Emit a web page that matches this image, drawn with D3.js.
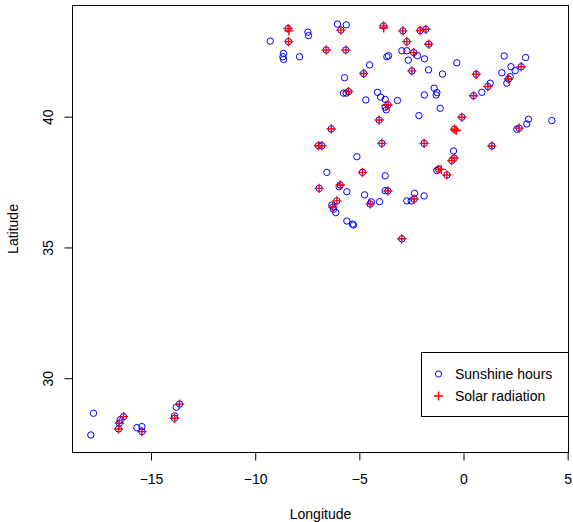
<!DOCTYPE html>
<html>
<head>
<meta charset="utf-8">
<script src="https://cdn.jsdelivr.net/npm/d3@7"></script>
<style>
  body { margin: 0; background: #fff; }
  text { font-family: "Liberation Sans", Arial, sans-serif; font-size: 14px; fill: #000; }
</style>
</head>
<body>
<svg id="chart" width="573" height="522"></svg>
<script>
// stations with sunshine hours
const sunLon = [-9.28, -8.42, -8.40, -7.47, -7.44, -8.64, -8.67, -8.64, -7.87, -6.59, -5.65, -6.05, -5.63, -5.89,
  -3.84, -2.91, -2.08, -1.81, -2.72, -1.67, -2.96, -2.72, -2.39, -2.21, -2.65, -1.87, -2.48, -1.68, -3.68, -3.60,
  -4.51, -4.79, -5.71, -5.52, -5.76, -5.63, -4.69, -4.13, -3.98, -3.76, -3.17, -3.62, -3.76, -3.71, -4.05, -6.35,
  -2.14, -1.01, -0.32, -1.41, -1.28, -1.31, -1.88, -1.12, 1.95, 2.98, 2.77, 2.28, 2.48, 1.84, 0.61, 2.16, 2.08,
  2.24, 1.28, 1.17, 0.88, 0.48, -0.08, 3.12, 3.04, 4.24, 2.67, 2.56, -0.43, -1.89, 1.36, -0.48, -0.56, -0.45,
  -1.20, -1.28, -0.80, -6.96, -6.80, -3.92, -5.12, -6.56, -4.85, -3.76, -6.93, -5.92, -5.97, -5.60, -4.75, -3.63,
  -3.76, -2.35, -1.89, -2.37, -2.72, -2.51, -4.03, -4.48, -4.43, -6.08, -6.27, -6.32, -6.24, -6.13, -5.60, -5.33,
  -5.28, -2.96, -17.76, -17.89, -16.32, -16.52, -16.56, -16.48, -15.68, -15.44, -15.44, -13.63, -13.79, -13.87, -13.87];
const sunLat = [42.89, 43.37, 42.87, 43.23, 43.10, 42.42, 42.29, 42.19, 42.29, 42.55, 42.55, 43.54, 43.51, 43.31,
  43.47, 43.28, 43.29, 43.34, 42.87, 42.77, 42.52, 42.52, 42.45, 42.33, 42.16, 42.21, 41.75, 41.79, 42.29, 42.33,
  41.98, 41.65, 41.49, 40.96, 40.90, 40.90, 40.64, 40.93, 40.75, 40.66, 40.62, 40.45, 40.36, 40.26, 39.87, 39.53,
  40.04, 41.63, 42.06, 41.09, 40.92, 40.83, 40.83, 40.32, 42.32, 42.26, 41.91, 41.91, 41.76, 41.68, 41.62, 41.44, 41.28,
  41.53, 41.28, 41.15, 40.93, 40.80, 39.98, 39.90, 39.72, 39.85, 39.56, 39.52, 39.52, 38.98, 38.88, 38.69, 38.32, 38.42,
  37.99, 37.94, 37.77, 38.89, 38.89, 38.98, 38.47, 37.87, 37.87, 37.74, 37.26, 37.39, 37.32, 37.13, 37.01, 37.16,
  37.17, 37.07, 36.97, 36.85, 36.78, 36.78, 36.75, 36.66, 36.74, 36.78, 36.54, 36.62, 36.46, 36.33, 36.01, 35.89,
  35.86, 35.33, 28.66, 27.83, 28.53, 28.28, 28.06, 28.41, 28.11, 28.15, 27.96, 29.01, 28.89, 28.47, 28.56];

// stations with solar radiation
const solLon = [-8.42, -8.38, -8.40, -6.59, -5.65, -5.89, -3.84, -3.83, -2.91, -2.08, -1.81, -2.72, -1.67, -2.39,
  -2.48, -4.79, -5.52, -3.62, -3.73, -4.05, -6.35, 2.77, 0.61, 2.16, 1.17, 0.48, -0.08, 2.67, -0.43, -0.35, -1.89,
  1.36, -0.56, -0.45, -1.20, -1.07, -0.80, -6.96, -6.80, -3.92, -4.85, -6.93, -5.92, -3.63, -2.37, -4.48, -6.08,
  -6.27, -2.96, -16.32, -16.52, -16.56, -15.44, -13.63, -13.87];
const solLat = [43.37, 43.28, 42.87, 42.55, 42.55, 43.31, 43.47, 43.39, 43.28, 43.29, 43.34, 42.87, 42.77, 42.45,
  41.75, 41.65, 40.96, 40.45, 40.43, 39.87, 39.53, 41.91, 41.62, 41.44, 41.15, 40.80, 39.98, 39.56, 39.52, 39.47, 38.98,
  38.88, 38.32, 38.42, 37.99, 37.98, 37.77, 38.89, 38.89, 38.98, 37.87, 37.26, 37.39, 37.16, 36.85, 36.66, 36.78,
  36.54, 35.33, 28.53, 28.28, 28.06, 27.96, 29.01, 28.47];

const xTicks = [-15, -10, -5, 0, 5];
const yTicks = [30, 35, 40];
const legendLabels = ["Sunshine hours", "Solar radiation"];

const box = {left: 72.5, right: 568.5, top: 5.5, bottom: 452.5};

const svg = d3.select("#chart");
const x = d3.scaleLinear().domain([-18.77, 5.04]).range([box.left, box.right]);
const y = d3.scaleLinear().domain([27.16, 44.25]).range([box.bottom, box.top]);

const sunshine = sunLon.map((d, i) => ({lon: d, lat: sunLat[i]}));
const solar = solLon.map((d, i) => ({lon: d, lat: solLat[i]}));

// plot frame
svg.append("rect")
    .attr("x", box.left).attr("y", box.top)
    .attr("width", box.right - box.left).attr("height", box.bottom - box.top)
    .attr("fill", "none").attr("stroke", "#000").attr("stroke-width", 1);

// x axis
const xAxis = svg.append("g")
    .attr("transform", `translate(0,${box.bottom})`)
    .call(d3.axisBottom(x).tickValues(xTicks).tickSize(8).tickPadding(14));
xAxis.select(".domain").remove();
xAxis.selectAll("text").style("font-size", "14px").style("font-family", "Liberation Sans, Arial, sans-serif");
xAxis.append("line")
    .attr("x1", x(-15)).attr("x2", x(5))
    .attr("stroke", "#000");

// y axis, labels turned like R does
const yAxis = svg.append("g")
    .attr("transform", `translate(${box.left},0)`)
    .call(d3.axisLeft(y).tickValues(yTicks).tickSize(8));
yAxis.select(".domain").remove();
yAxis.selectAll("text")
    .attr("x", null).attr("dy", null)
    .attr("text-anchor", "middle")
    .attr("transform", "translate(-20,0) rotate(-90)")
    .style("font-size", "14px").style("font-family", "Liberation Sans, Arial, sans-serif");
yAxis.append("line")
    .attr("y1", y(30)).attr("y2", y(40))
    .attr("stroke", "#000");

// axis titles
svg.append("text")
    .attr("x", (box.left + box.right) / 2).attr("y", 519)
    .attr("text-anchor", "middle")
    .text("Longitude");
svg.append("text")
    .attr("transform", `translate(18,${(box.top + box.bottom) / 2}) rotate(-90)`)
    .attr("text-anchor", "middle")
    .text("Latitude");

// points
const cross = (g, size) => g.append("path")
    .attr("d", `M${-size},0H${size}M0,${-size}V${size}`)
    .attr("stroke", "#ff0000").attr("stroke-width", 1.4).attr("fill", "none");

svg.append("g").selectAll("circle")
    .data(sunshine)
    .enter()
    .append("circle")
    .attr("cx", d => x(d.lon))
    .attr("cy", d => y(d.lat))
    .attr("r", 3.2)
    .attr("fill", "none")
    .attr("stroke", "#0000ff");

svg.append("g").selectAll("g")
    .data(solar)
    .enter()
    .append("g")
    .attr("transform", d => `translate(${x(d.lon)},${y(d.lat)})`)
    .each(function () { cross(d3.select(this), 4.6); });

// legend
const legend = svg.append("g");
legend.append("rect")
    .attr("x", 421.5).attr("y", 352.5).attr("width", 147).attr("height", 64)
    .attr("fill", "#fff").attr("stroke", "#000");
legend.append("circle")
    .attr("cx", 438.5).attr("cy", 374).attr("r", 3.1)
    .attr("fill", "none").attr("stroke", "#0000ff");
cross(legend.append("g").attr("transform", "translate(438.5,396)"), 4.6);
legend.selectAll("text.lab")
    .data(legendLabels)
    .enter()
    .append("text")
    .attr("class", "lab")
    .attr("x", 455)
    .attr("y", (d, i) => 379 + i * 22)
    .text(d => d);
</script>
</body>
</html>
